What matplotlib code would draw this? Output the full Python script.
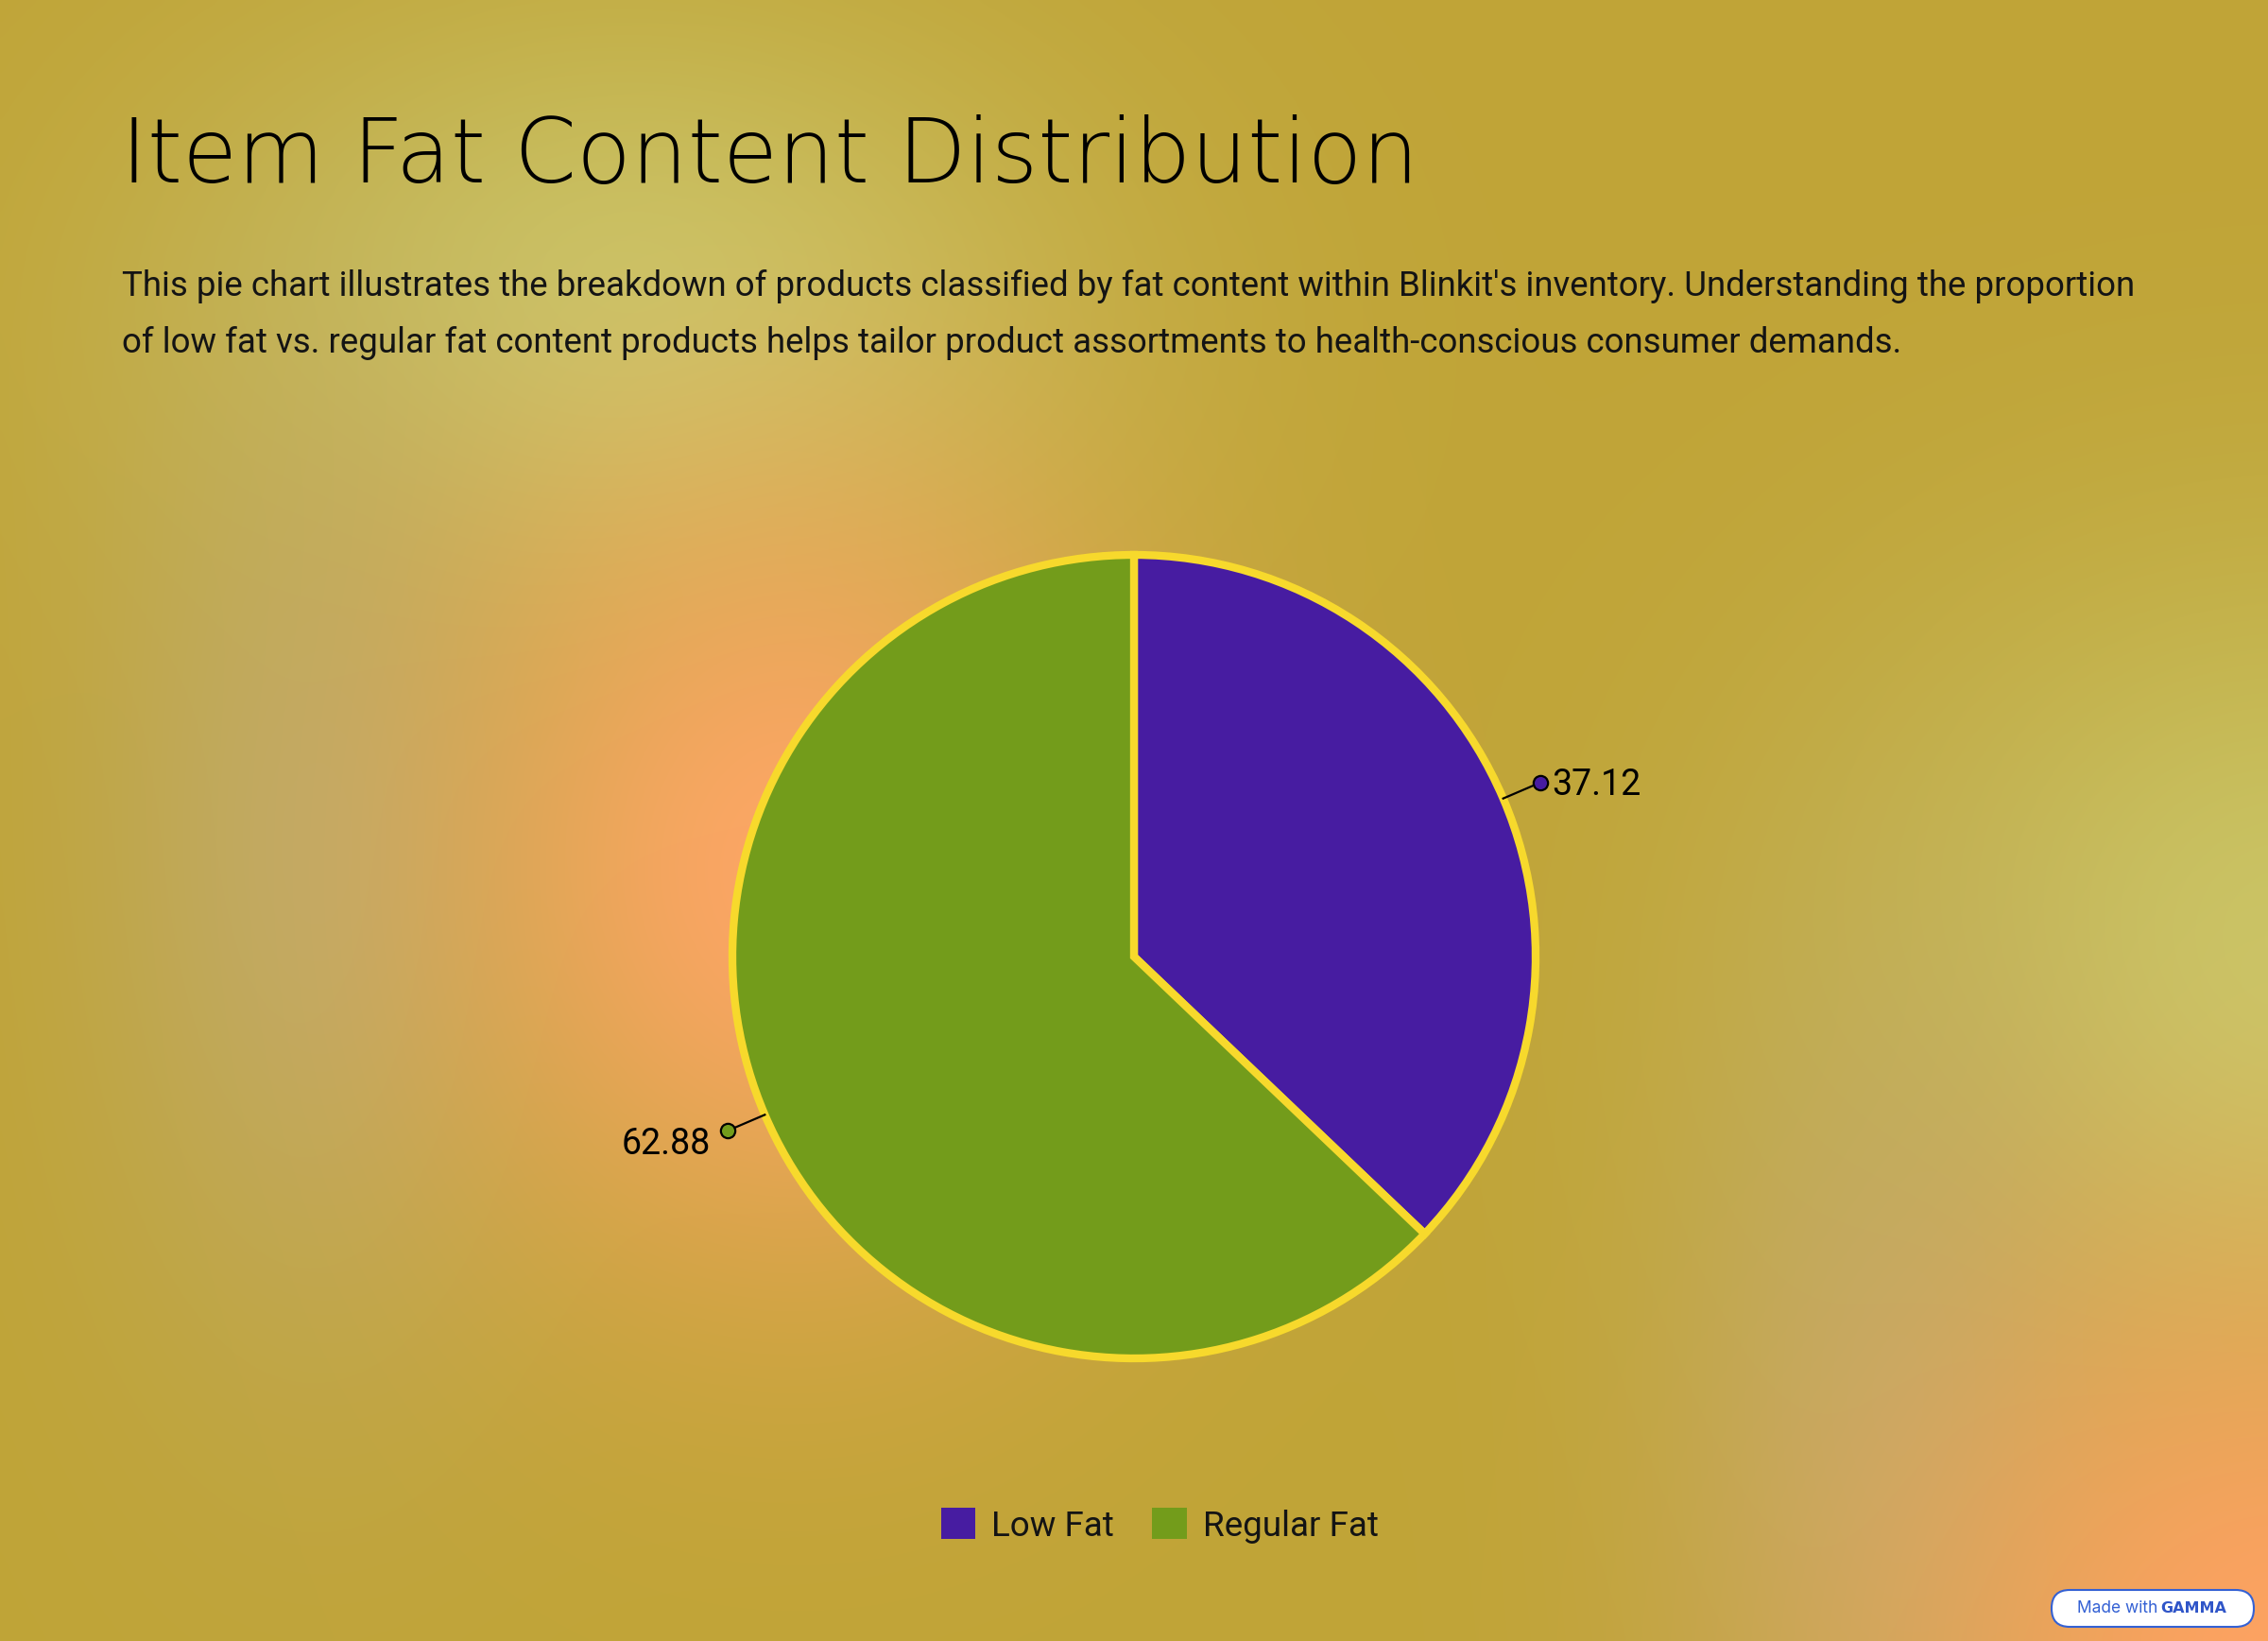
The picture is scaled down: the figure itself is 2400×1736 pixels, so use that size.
import matplotlib
matplotlib.use("Agg")
import matplotlib.pyplot as plt
import numpy as np
from matplotlib.colors import to_rgb
from matplotlib.patches import FancyBboxPatch, Patch

# Chart data
categories = ["Low Fat", "Regular Fat"]
shares = [37.12, 62.88]
colors = ["#471ca1", "#739c1b"]

title = "Item Fat Content Distribution"
subtitle_lines = [
    "This pie chart illustrates the breakdown of products classified by fat content within "
    "Blinkit's inventory. Understanding the proportion",
    "of low fat vs. regular fat content products helps tailor product assortments to "
    "health-conscious consumer demands.",
]

W, H = 2400, 1736
DPI = 100
fig = plt.figure(figsize=(W / DPI, H / DPI), dpi=DPI)


def fx(px):
    return px / W


def fy(py):
    # pixel y measured from the top
    return 1 - py / H


# Background: olive gold with soft blurred blobs
bg_ax = fig.add_axes([0, 0, 1, 1])
bg_ax.set_axis_off()
yy, xx = np.mgrid[0:H:4, 0:W:4]
img = np.ones(xx.shape + (3,)) * np.array(to_rgb("#c0a437"))
blobs = [
    # cx, cy, sx, sy, colour, strength
    (660, 330, 330, 230, "#c9c668", 0.95),
    (330, 900, 170, 380, "#bdab6a", 0.85),
    (840, 920, 250, 300, "#fca665", 1.0),
    (2420, 1030, 330, 300, "#cac768", 0.95),
    (2000, 1500, 170, 380, "#bdaa6a", 0.8),
    (2420, 1760, 300, 300, "#fda262", 1.0),
]
for cx, cy, sx, sy, c, k in blobs:
    w = k * np.exp(-(((xx - cx) / sx) ** 2 + ((yy - cy) / sy) ** 2) / 2)
    img = img * (1 - w[..., None]) + np.array(to_rgb(c)) * w[..., None]
bg_ax.imshow(img, extent=(0, 1, 0, 1), aspect="auto", interpolation="bicubic")
bg_ax.set_xlim(0, 1)
bg_ax.set_ylim(0, 1)

# Title and description
fig.text(fx(128), fy(193), title, fontsize=68, family="DejaVu Sans", weight=200,
         color="black", va="baseline", ha="left")
for i, line in enumerate(subtitle_lines):
    fig.text(fx(129), fy(313 + 60 * i), line, fontsize=26.4, family="Roboto",
             weight="normal", color="#141414", va="baseline", ha="left")

# Pie
cx, cy, R = 1200, 1012, 425
box = 1200
ax = fig.add_axes([fx(cx - box / 2), fy(cy + box / 2), fx(box), box / H])
lim = box / (2 * R)
wedges, _ = ax.pie(
    shares,
    colors=colors,
    startangle=90,
    counterclock=False,
    wedgeprops={"edgecolor": "#f7d92c", "linewidth": 6},
)
ax.set_xlim(-lim, lim)
ax.set_ylim(-lim, lim)
ax.set_aspect("equal")
ax.set_axis_off()

# Value labels with little leader lines and dots
for wedge, val, c in zip(wedges, shares, colors):
    ang = np.deg2rad((wedge.theta1 + wedge.theta2) / 2)
    ca, sa = np.cos(ang), np.sin(ang)
    ax.plot([1.0 * ca, 1.085 * ca], [1.0 * sa, 1.085 * sa], color="black", lw=1.6,
            zorder=5, clip_on=False)
    ax.plot(1.1 * ca, 1.1 * sa, "o", ms=11, mfc=c, mec="black", mew=1.6, zorder=6,
            clip_on=False)
    if ca >= 0:
        off, ha = (9, -9.5), "left"
    else:
        off, ha = (-13, -18), "right"
    ax.annotate(f"{val:.2f}", (1.1 * ca, 1.1 * sa), xytext=off, textcoords="offset points",
                ha=ha, va="baseline", fontsize=27, family="Roboto", color="black",
                annotation_clip=False)

# Legend
handles = [Patch(facecolor=c, edgecolor="none") for c in colors]
leg = fig.legend(handles, categories, loc="center", bbox_to_anchor=(fx(1227), fy(1614)),
                 ncol=2, frameon=False, handlelength=1.0, handleheight=1.0,
                 handletextpad=0.45, columnspacing=1.1,
                 prop={"family": "Roboto", "weight": "normal", "size": 26.5})
for t in leg.get_texts():
    t.set_color("#141414")

# "Made with Gamma" badge
badge = FancyBboxPatch((fx(2171), fy(1721)), fx(214), 39 / H,
                       boxstyle="round,pad=0,rounding_size=0.008",
                       transform=fig.transFigure, facecolor="white",
                       edgecolor="#3461d4", linewidth=1.5, mutation_aspect=W / H)
fig.add_artist(badge)
fig.text(fx(2198), fy(1702), "Made with", fontsize=12.5, family="Inter", color="#3461d4",
         va="center", ha="left")
fig.text(fx(2286), fy(1702), "GAMMA", fontsize=11.5, family="DejaVu Sans", weight="bold",
         color="#2f55c8", va="center", ha="left")

fig.savefig("out.png", dpi=DPI)
